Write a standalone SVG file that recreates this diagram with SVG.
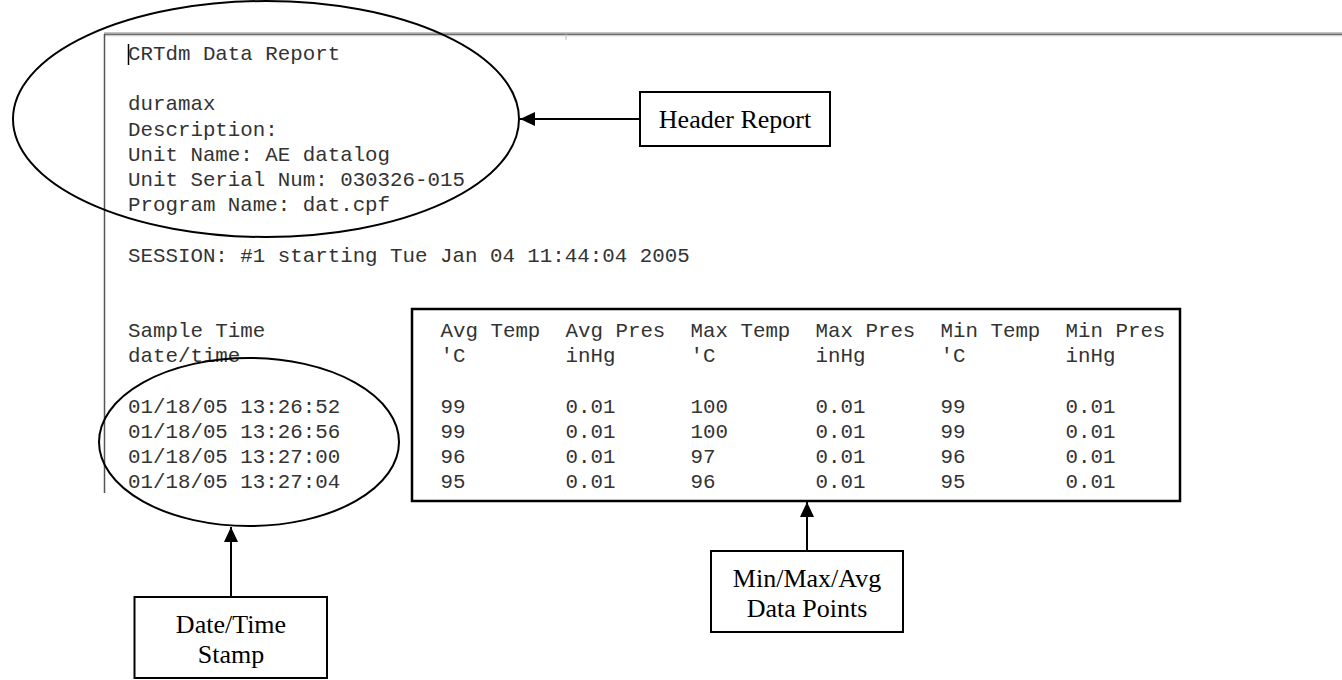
<svg xmlns="http://www.w3.org/2000/svg" width="1342" height="680" viewBox="0 0 1342 680">
<defs>
<marker id="ah" markerUnits="userSpaceOnUse" markerWidth="16" markerHeight="16" viewBox="0 0 16 16" refX="15" refY="8" orient="auto">
<path d="M0,1 L15,8 L0,15 Z" fill="#000"/>
</marker>
<style>
.mono{font-family:"Liberation Mono","Courier New",monospace;font-size:20.8px;fill:#333;}
.lbl{font-family:"Liberation Serif","Times New Roman",serif;font-size:26px;fill:#000;text-anchor:middle;}
.box{fill:#fff;stroke:#000;stroke-width:2;}
.ell{fill:none;stroke:#000;stroke-width:2;}
.conn{stroke:#000;stroke-width:2;fill:none;marker-end:url(#ah);}
</style>
</defs>
<rect width="1342" height="680" fill="#fff"/>
<g id="window">
<rect x="104" y="32" width="1238" height="1.5" fill="#c4c4c4"/>
<rect x="104" y="33.5" width="1238" height="2" fill="#6e6e6e"/>
<rect x="104" y="35.5" width="1238" height="1" fill="#e6e6e6"/>
<line x1="104.5" y1="34" x2="104.5" y2="493" stroke="#555" stroke-width="1.5"/>
<line x1="566" y1="34" x2="566" y2="40" stroke="#bbb" stroke-width="1"/>
<line x1="128.5" y1="44" x2="128.5" y2="65" stroke="#000" stroke-width="1.5"/>
</g>
<g id="report-text" class="mono">
<text x="128" y="60">CRTdm Data Report</text>
<text x="128" y="110.4">duramax</text>
<text x="128" y="135.6">Description:</text>
<text x="128" y="160.8">Unit Name: AE datalog</text>
<text x="128" y="186">Unit Serial Num: 030326-015</text>
<text x="128" y="211.2">Program Name: dat.cpf</text>
<text x="128" y="261.6">SESSION: #1 starting Tue Jan 04 11:44:04 2005</text>
<text x="128" y="337.2">Sample Time</text>
<text x="128" y="362.4">date/time</text>
<text x="128" y="412.8">01/18/05 13:26:52</text>
<text x="128" y="438">01/18/05 13:26:56</text>
<text x="128" y="463.2">01/18/05 13:27:00</text>
<text x="128" y="488.4">01/18/05 13:27:04</text>
</g>
<g id="data-table">
<rect x="412" y="309" width="768" height="192" fill="none" stroke="#000" stroke-width="2.5"/>
<g class="mono">
<text x="440.5" y="337.2">Avg Temp</text><text x="565.5" y="337.2">Avg Pres</text><text x="690.5" y="337.2">Max Temp</text><text x="815.5" y="337.2">Max Pres</text><text x="940.5" y="337.2">Min Temp</text><text x="1065.5" y="337.2">Min Pres</text>
<text x="440.5" y="362.4">'C</text><text x="565.5" y="362.4">inHg</text><text x="690.5" y="362.4">'C</text><text x="815.5" y="362.4">inHg</text><text x="940.5" y="362.4">'C</text><text x="1065.5" y="362.4">inHg</text>
<text x="440.5" y="412.8">99</text><text x="565.5" y="412.8">0.01</text><text x="690.5" y="412.8">100</text><text x="815.5" y="412.8">0.01</text><text x="940.5" y="412.8">99</text><text x="1065.5" y="412.8">0.01</text>
<text x="440.5" y="438">99</text><text x="565.5" y="438">0.01</text><text x="690.5" y="438">100</text><text x="815.5" y="438">0.01</text><text x="940.5" y="438">99</text><text x="1065.5" y="438">0.01</text>
<text x="440.5" y="463.2">96</text><text x="565.5" y="463.2">0.01</text><text x="690.5" y="463.2">97</text><text x="815.5" y="463.2">0.01</text><text x="940.5" y="463.2">96</text><text x="1065.5" y="463.2">0.01</text>
<text x="440.5" y="488.4">95</text><text x="565.5" y="488.4">0.01</text><text x="690.5" y="488.4">96</text><text x="815.5" y="488.4">0.01</text><text x="940.5" y="488.4">95</text><text x="1065.5" y="488.4">0.01</text>
</g>
</g>
<g id="header-ellipse"><ellipse class="ell" cx="266" cy="119" rx="253" ry="118"/></g>
<g id="datetime-ellipse"><ellipse class="ell" cx="249" cy="442" rx="150" ry="84"/></g>
<g id="connectors">
<line class="conn" x1="640" y1="119" x2="520" y2="119"/>
<line class="conn" x1="231" y1="597" x2="231" y2="527"/>
<line class="conn" x1="807" y1="551" x2="807" y2="502"/>
</g>
<g id="header-report">
<rect class="box" x="640" y="92" width="190" height="54"/>
<text class="lbl" x="735" y="128">Header Report</text>
</g>
<g id="datetime-stamp">
<rect class="box" x="134.5" y="597" width="192.5" height="81"/>
<text class="lbl" x="231" y="633">Date/Time</text>
<text class="lbl" x="231" y="663">Stamp</text>
</g>
<g id="minmax-points">
<rect class="box" x="711" y="551" width="192" height="81"/>
<text class="lbl" x="807" y="587">Min/Max/Avg</text>
<text class="lbl" x="807" y="617">Data Points</text>
</g>
</svg>
